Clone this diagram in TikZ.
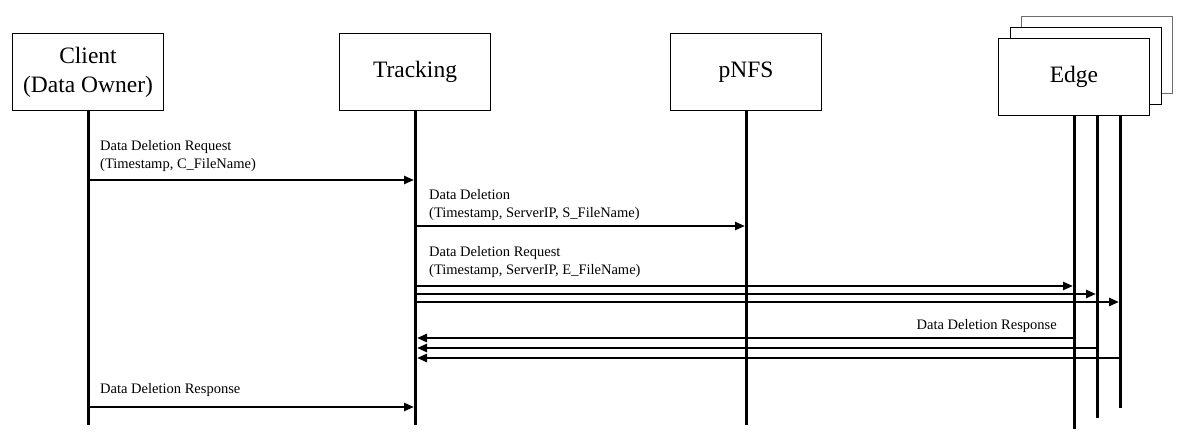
\documentclass[tikz,border=0pt]{standalone}
\usepackage{fontspec}
\setmainfont{Liberation Serif}
\usetikzlibrary{arrows.meta, positioning}
\definecolor{lineBlack}{RGB}{0,0,0}
\definecolor{stackGray}{RGB}{110,110,110}
\tikzset{
    actorbox/.style={
        rectangle,
        draw=lineBlack,
        fill=white,
        line width=0.9pt,
        align=center,
        minimum width=151pt,
        minimum height=77pt,
        font=\fontsize{23.5}{29}\selectfont
    },
    stackbox/.style={
        actorbox,
        draw=stackGray
    },
    lifeline/.style={draw=lineBlack, line width=3pt},
    msgarrow/.style={-{Triangle[length=10pt, width=8pt]}, line width=2.4pt, draw=lineBlack},
    msglabel/.style={align=left, inner sep=0pt, font=\fontsize{14.5}{18}\selectfont}
}
\begin{document}
\begin{tikzpicture}[x=1pt, y=-1pt]
    \useasboundingbox (0,0) rectangle (1186,444);
    % actors
    \node[actorbox] (client) at (88,72) {Client\\(Data Owner)};
    \node[actorbox] (track) at (415,72) {Tracking};
    \node[actorbox] (pnfs) at (746,72) {pNFS};
    \node[stackbox] (edgeC) at (1097,54.5) {};
    \node[actorbox] (edgeB) at (1085.5,65.5) {};
    \node[actorbox] (edge) at (1074,77) {Edge};
    % lifeline ends
    \coordinate (clientEnd) at (88,425);
    \coordinate (trackEnd) at (415,425);
    \coordinate (pnfsEnd) at (746,425);
    \coordinate (edgeTopB) at (1097,104);
    \coordinate (edgeTopC) at (1120,93);
    \coordinate (edgeEnd) at (1074,429);
    \coordinate (edgeEndB) at (1097,418);
    \coordinate (edgeEndC) at (1120,408);
    \draw[lifeline] (client.south) -- (clientEnd);
    \draw[lifeline] (track.south) -- (trackEnd);
    \draw[lifeline] (pnfs.south) -- (pnfsEnd);
    \draw[lifeline] (edge.south) -- (edgeEnd);
    \draw[lifeline] (edge.south -| edgeTopB) -- (edgeEndB);
    \draw[lifeline] (edge.south -| edgeTopC) -- (edgeEndC);
    % message rows
    \coordinate (m1) at (0,180);
    \coordinate (m2) at (0,226);
    \coordinate (m3) at (0,286);
    \coordinate (m4) at (0,294);
    \coordinate (m5) at (0,302);
    \coordinate (r1) at (0,338);
    \coordinate (r2) at (0,348);
    \coordinate (r3) at (0,358);
    \coordinate (r4) at (0,407);
    % requests
    \draw[msgarrow] (client.south |- m1) -- ([xshift=-1pt]track.south |- m1);
    \node[msglabel, anchor=base west] (lbl1) at (100,168) {Data Deletion Request\\(Timestamp, C\_FileName)};
    \draw[msgarrow] (track.south |- m2) -- ([xshift=-1pt]pnfs.south |- m2);
    \node[msglabel, anchor=base west] (lbl2) at (429,217) {Data Deletion\\(Timestamp, ServerIP, S\_FileName)};
    \draw[msgarrow] (track.south |- m3) -- ([xshift=-1pt]edge.south |- m3);
    \draw[msgarrow] (track.south |- m4) -- ([xshift=-1pt]edgeTopB |- m4);
    \draw[msgarrow] (track.south |- m5) -- ([xshift=-1pt]edgeTopC |- m5);
    \node[msglabel, anchor=base west] (lbl3) at (429,274) {Data Deletion Request\\(Timestamp, ServerIP, E\_FileName)};
    % responses
    \draw[msgarrow] ([xshift=-1pt]edge.south |- r1) -- ([xshift=2pt]track.south |- r1);
    \draw[msgarrow] (edgeTopB |- r2) -- ([xshift=2pt]track.south |- r2);
    \draw[msgarrow] (edgeTopC |- r3) -- ([xshift=2pt]track.south |- r3);
    \node[msglabel, anchor=base east] (lbl4) at (1057,329) {Data Deletion Response};
    \draw[msgarrow] (client.south |- r4) -- ([xshift=-1pt]track.south |- r4);
    \node[msglabel, anchor=base west] (lbl5) at (100,393) {Data Deletion Response};
\end{tikzpicture}
\end{document}
